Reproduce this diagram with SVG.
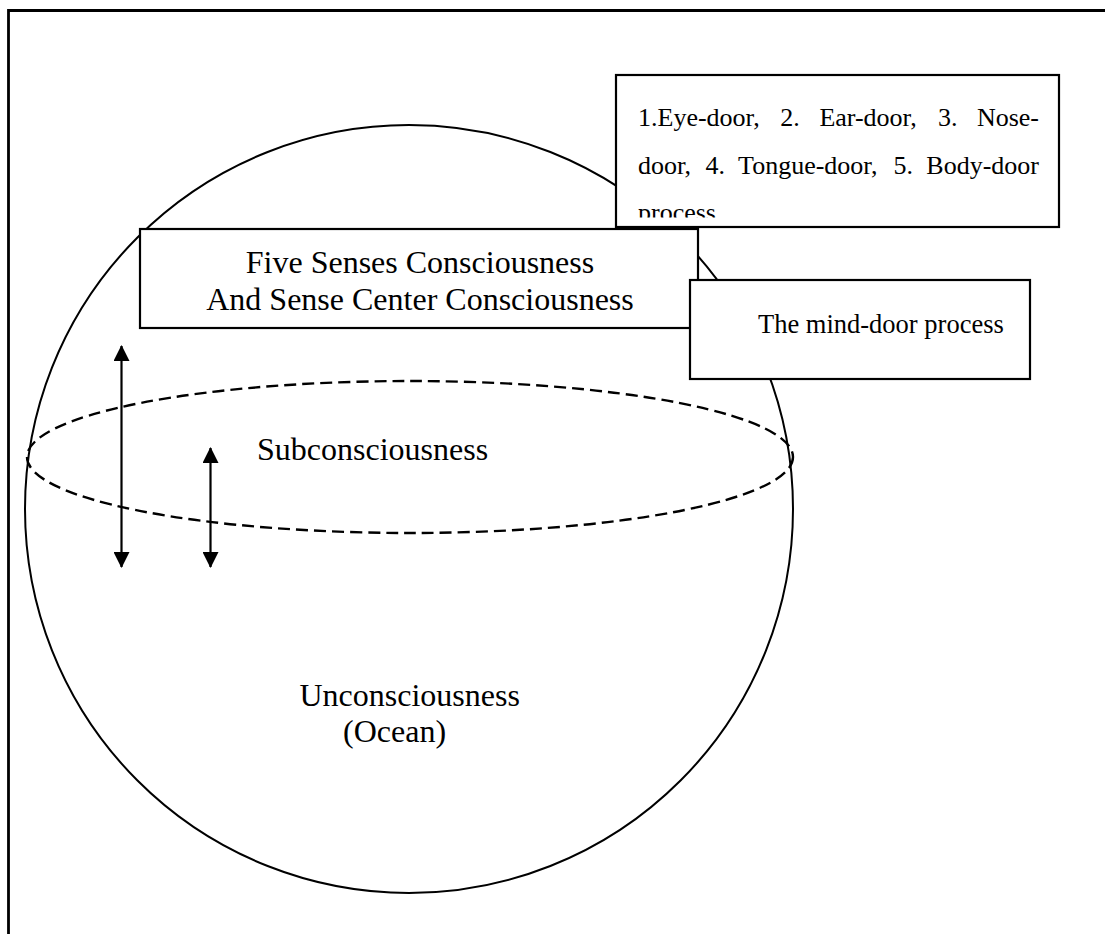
<svg xmlns="http://www.w3.org/2000/svg" width="1105" height="934" viewBox="0 0 1105 934">
  <style>
    .frame { fill: none; stroke: #000; stroke-width: 2.8; }
    .shape { fill: none; stroke: #000; stroke-width: 2; }
    .dash { fill: none; stroke: #000; stroke-width: 2.4; stroke-dasharray: 12 6; }
    .box { fill: #fff; stroke: #000; stroke-width: 2.2; }
    .arrow { fill: none; stroke: #000; stroke-width: 2.2; marker-start: url(#head); marker-end: url(#head); }
    text { font-family: "Liberation Serif", "Times New Roman", serif; fill: #000; }
    .big { font-size: 32px; }
    .small { font-size: 26px; }
  </style>
  <defs>
    <marker id="head" viewBox="0 0 16 16" refX="15" refY="8" markerWidth="16" markerHeight="16" markerUnits="userSpaceOnUse" orient="auto-start-reverse">
      <path d="M0,0 L16,8 L0,16 Z" fill="#000"/>
    </marker>
    <clipPath id="doorsClip">
      <rect x="617" y="76" width="441" height="141.5"/>
    </clipPath>
  </defs>

  <rect width="1105" height="934" fill="#fff"/>

  <!-- page frame (open at right and bottom) -->
  <path class="frame" d="M8.5,934 V10.5 H1105"/>

  <!-- mind sphere and its subconscious layer -->
  <g id="sphere">
    <circle class="shape" cx="409" cy="509" r="384"/>
    <ellipse class="dash" cx="410" cy="457" rx="383" ry="76"/>
  </g>

  <g id="connectors">
    <line class="arrow" x1="121.5" y1="346" x2="121.5" y2="567"/>
    <line class="arrow" x1="210.5" y1="448" x2="210.5" y2="567"/>
  </g>

  <g id="subconsciousness">
    <text class="big" x="257" y="460">Subconsciousness</text>
  </g>

  <g id="unconsciousness">
    <text class="big" x="299.5" y="706">Unconsciousness</text>
    <text class="big" x="343" y="742">(Ocean)</text>
  </g>

  <g id="five-senses">
    <rect class="box" x="140" y="229" width="558" height="99"/>
    <text class="big" x="420" y="273" text-anchor="middle">Five Senses Consciousness</text>
    <text class="big" x="420" y="310" text-anchor="middle">And Sense Center Consciousness</text>
  </g>

  <g id="sense-doors">
    <rect class="box" x="616" y="75" width="443" height="152"/>
    <g class="small" clip-path="url(#doorsClip)">
      <text x="638" y="126">1.Eye-door,</text>
      <text x="780.3" y="126">2.</text>
      <text x="819.4" y="126">Ear-door,</text>
      <text x="937.9" y="126">3.</text>
      <text x="1039" y="126" text-anchor="end">Nose-</text>
      <text x="638" y="174">door,</text>
      <text x="705.4" y="174">4.</text>
      <text x="738.1" y="174">Tongue-door,</text>
      <text x="893.5" y="174">5.</text>
      <text x="1039" y="174" text-anchor="end">Body-door</text>
      <text x="638" y="221">process</text>
    </g>
  </g>

  <g id="mind-door">
    <rect class="box" x="690" y="280" width="340" height="99"/>
    <text class="small" x="758" y="333" style="font-size:26.5px">The mind-door process</text>
  </g>
</svg>
